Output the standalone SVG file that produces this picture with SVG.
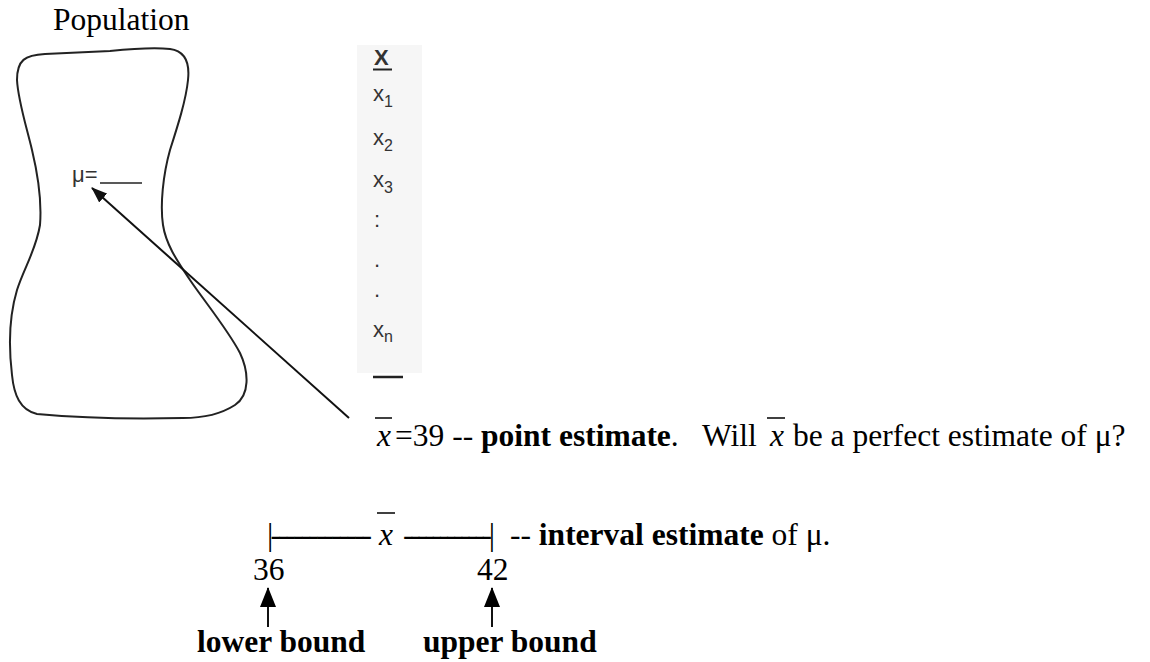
<svg xmlns="http://www.w3.org/2000/svg" width="1150" height="662" viewBox="0 0 1150 662">
  <style>
    .serif { font-family: "Liberation Serif", "Times New Roman", serif; font-size: 31.5px; fill: #000; }
    .bold { font-weight: bold; }
    .ital { font-style: italic; }
    .sans { font-family: "Liberation Sans", Arial, sans-serif; fill: #333; }
    .xv { font-size: 22px; }
    .sub { font-size: 16px; }
    .bar { stroke: #000; stroke-width: 1.5; }
    .conn { stroke: #111; stroke-width: 2; fill: none; }
  </style>
  <defs>
    <marker id="headSmall" markerUnits="userSpaceOnUse" markerWidth="16" markerHeight="12" viewBox="0 0 16 12" refX="15" refY="6" orient="auto">
      <path d="M0,0 L16,6 L0,12 z" fill="#111"/>
    </marker>
    <marker id="headUp" markerUnits="userSpaceOnUse" markerWidth="20" markerHeight="16" viewBox="0 0 20 16" refX="19" refY="8" orient="auto">
      <path d="M0,0 L20,8 L0,16 z" fill="#000"/>
    </marker>
  </defs>
  <rect width="1150" height="662" fill="#fff"/>

  <g id="population">
    <text class="serif" x="53" y="30">Population</text>
    <path d="M 17,80 C 17,60 25,55 45,54 C 70,53 90,52 110,51 C 130,49 150,47 170,49 C 185,51 190,62 188,80 C 186,100 178,125 170,150 C 163,175 160,205 163,225 C 166,245 178,262 190,280 C 205,302 228,330 240,353 C 249,372 250,395 235,405 C 218,416 200,418 183,418 C 140,419 80,418 37,414 C 20,410 14,395 12,375 C 9,350 8,320 17,290 C 24,268 36,250 40,225 C 42,200 38,175 32,150 C 26,125 18,100 17,80 Z" fill="none" stroke="#222" stroke-width="2"/>
    <text class="sans" x="72" y="182" font-size="22">μ=</text>
    <line x1="100" y1="183" x2="142" y2="183" stroke="#222" stroke-width="1.5"/>
  </g>

  <g id="sample">
    <rect x="357" y="45" width="65" height="328" fill="#f6f6f6"/>
    <text class="sans" x="374" y="65" font-size="22" font-weight="bold">X</text>
    <line x1="373" y1="69.5" x2="392" y2="69.5" stroke="#222" stroke-width="2"/>
    <text class="sans xv" x="373" y="101">x<tspan class="sub" dy="6">1</tspan></text>
    <text class="sans xv" x="373" y="145">x<tspan class="sub" dy="6">2</tspan></text>
    <text class="sans xv" x="373" y="187">x<tspan class="sub" dy="6">3</tspan></text>
    <text class="sans xv" x="374" y="227" fill="#aaa">:</text>
    <text class="sans xv" x="374" y="267" fill="#666">.</text>
    <text class="sans xv" x="374" y="297" fill="#666">.</text>
    <text class="sans xv" x="373" y="337">x<tspan class="sub" dy="5">n</tspan></text>
    <line x1="373" y1="377" x2="403" y2="377" stroke="#222" stroke-width="2.5"/>
  </g>

  <g id="point-estimate">
    <line class="bar" x1="375" y1="418" x2="392" y2="418"/>
    <text class="serif ital" x="377" y="446">x</text>
    <text class="serif" x="395" y="446">=39 -- <tspan class="bold">point estimate</tspan>.</text>
    <text class="serif" x="702" y="446">Will</text>
    <line class="bar" x1="767" y1="418" x2="785" y2="418"/>
    <text class="serif ital" x="770" y="446">x</text>
    <text class="serif" x="793" y="446" font-size="30.5">be a perfect estimate of μ?</text>
  </g>

  <g id="interval-estimate">
    <text class="serif" x="267" y="545" textLength="105" lengthAdjust="spacing">|-------------</text>
    <line class="bar" x1="377" y1="513" x2="395" y2="513"/>
    <text class="serif ital" x="379" y="545">x</text>
    <text class="serif" x="403" y="545" textLength="92" lengthAdjust="spacing">------------|</text>
    <text class="serif" x="510" y="545">-- <tspan class="bold">interval estimate</tspan> of μ.</text>
    <text class="serif" x="253" y="580">36</text>
    <text class="serif" x="477" y="580">42</text>
  </g>

  <g id="lower-bound">
    <text class="serif bold" x="197" y="652">lower bound</text>
  </g>
  <g id="upper-bound">
    <text class="serif bold" x="423" y="652">upper bound</text>
  </g>

  <g id="connectors">
    <line class="conn" x1="349" y1="418" x2="92" y2="188" marker-end="url(#headSmall)"/>
    <line class="conn" x1="268" y1="627" x2="268" y2="588" marker-end="url(#headUp)"/>
    <line class="conn" x1="492" y1="627" x2="492" y2="588" marker-end="url(#headUp)"/>
  </g>
</svg>
